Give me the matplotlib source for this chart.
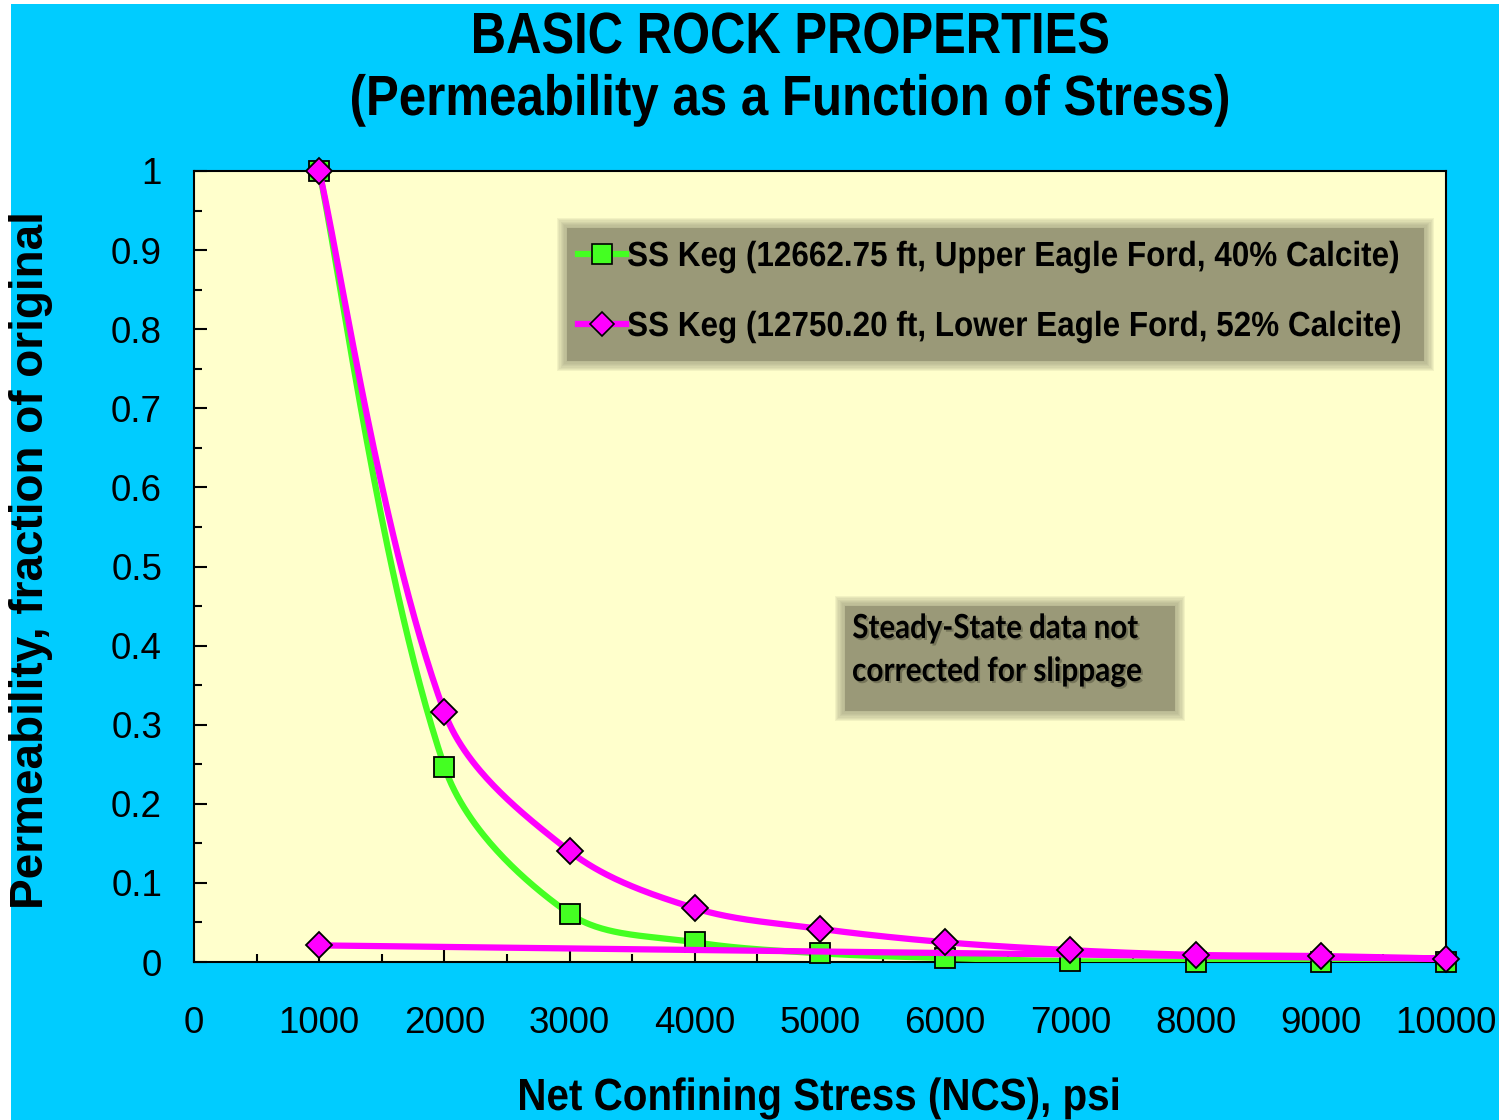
import numpy as np
import matplotlib
matplotlib.use("Agg")
import matplotlib.pyplot as plt
from matplotlib.font_manager import FontProperties
from matplotlib.textpath import TextPath
from matplotlib.patches import PathPatch, Rectangle
from matplotlib.transforms import Affine2D, IdentityTransform
from matplotlib.lines import Line2D

# net confining stress steps, psi
stress = [1000, 2000, 3000, 4000, 5000, 6000, 7000, 8000, 9000, 10000]
# upper Eagle Ford plug, loading only
upper_perm = [1.0, 0.247, 0.061, 0.025, 0.011, 0.005, 0.001, 0.0005, 0.0003, 0.0002]
# lower Eagle Ford plug, loading then unloaded back to 1000 psi
lower_stress = stress + [1000]
lower_perm = [1.0, 0.316, 0.140, 0.068, 0.042, 0.025, 0.015, 0.009, 0.0075, 0.004, 0.021]

x_ticks = [0, 1000, 2000, 3000, 4000, 5000, 6000, 7000, 8000, 9000, 10000]
y_ticks = [0, 0.1, 0.2, 0.3, 0.4, 0.5, 0.6, 0.7, 0.8, 0.9, 1.0]
y_labels = ["0", "0.1", "0.2", "0.3", "0.4", "0.5", "0.6", "0.7", "0.8", "0.9", "1"]

label_upper = "SS Keg (12662.75 ft, Upper Eagle Ford, 40% Calcite)"
label_lower = "SS Keg (12750.20 ft, Lower Eagle Ford, 52% Calcite)"

W, H = 1499, 1120
CYAN = "#00CCFF"
GREEN = "#44FF22"
MAGENTA = "#FF00FF"
BOXGRAY = "#9A9978"

fig = plt.figure(figsize=(W / 100, H / 100), dpi=100, facecolor="white")
fig.add_artist(Rectangle((11 / W, 0), 1, 1 - 4 / H, transform=fig.transFigure,
                         facecolor=CYAN, edgecolor="none", zorder=-10))

ax = fig.add_axes([194 / W, 1 - 962 / H, (1446 - 194) / W, (962 - 171) / H])
ax.set_facecolor("#FFFFCC")
ax.set_xlim(0, 10000)
ax.set_ylim(0, 1)
for s in ax.spines.values():
    s.set_linewidth(1.5)

ax.set_xticks(x_ticks)
ax.set_xticklabels([str(v) for v in x_ticks])
ax.set_xticks(np.arange(500, 10000, 1000), minor=True)
ax.set_yticks(y_ticks)
ax.set_yticklabels(y_labels)
ax.set_yticks(np.arange(0.05, 1.0, 0.1), minor=True)
ax.tick_params(which="both", direction="in", width=1.5, labelsize=26.5,
               colors="black")
ax.tick_params(which="major", length=9)
ax.tick_params(which="minor", length=6)
ax.tick_params(axis="x", pad=32)
ax.tick_params(axis="y", pad=23)
for t in ax.get_xticklabels() + ax.get_yticklabels():
    t.set_family("Liberation Sans")


def smooth(xs, ys, n=60):
    # Bezier smoothing through the points in screen space; the control arms
    # are weighted by the lengths of the neighbouring segments
    pts = ax.transData.transform(np.column_stack([xs, ys]))
    P = np.vstack([pts[0], pts, pts[-1]])
    d = np.hypot(*np.diff(P, axis=0).T)
    t = np.linspace(0, 1, n)[:, None]
    segs = []
    for i in range(1, len(P) - 2):
        p0, p1, p2, p3 = P[i - 1], P[i], P[i + 1], P[i + 2]
        d0, d1, d2 = d[i - 1], d[i], d[i + 1]
        w1 = d1 / (d0 + d1) / 3 if d0 > 0 else 1 / 6
        w2 = d1 / (d1 + d2) / 3 if d2 > 0 else 1 / 6
        c1 = p1 + (p2 - p0) * w1
        c2 = p2 - (p3 - p1) * w2
        segs.append((1 - t) ** 3 * p1 + 3 * (1 - t) ** 2 * t * c1
                    + 3 * (1 - t) * t ** 2 * c2 + t ** 3 * p2)
    cx, cy = ax.transData.inverted().transform(np.vstack(segs)).T
    return cx, cy


gx, gy = smooth(stress, upper_perm)
ax.plot(gx, gy, color=GREEN, lw=4.5, solid_capstyle="round", zorder=3)
ax.plot(stress, upper_perm, ls="none", marker="s", ms=15, mfc=GREEN,
        mec="black", mew=1.3, clip_on=False, zorder=3)

mx, my = smooth(lower_stress, lower_perm)
ax.plot(mx, my, color=MAGENTA, lw=4.5, solid_capstyle="round", zorder=4)
ax.plot(lower_stress, lower_perm, ls="none", marker="D", ms=13.5, mfc=MAGENTA,
        mec="black", mew=1.3, clip_on=False, zorder=4)


def fit_text(s, x0, x1, base, cap_h, family, weight="bold", color="black",
             zorder=6, shadow=False):
    # text drawn as a path, stretched to a given ink width and cap height
    fp = FontProperties(family=family, weight=weight)
    tp = TextPath((0, 0), s, size=100, prop=fp)
    cap = TextPath((0, 0), "H", size=100, prop=fp).get_extents().y1
    ext = tp.get_extents()
    sx = (x1 - x0) / ext.width
    sy = cap_h / cap
    tr = Affine2D().translate(-ext.x0, 0).scale(sx, sy).translate(x0, H - base)
    path = tr.transform_path(tp)
    if shadow:
        sh = Affine2D().translate(2, -2).transform_path(path)
        fig.add_artist(PathPatch(sh, facecolor="#333322", edgecolor="none",
                                 alpha=0.35, transform=IdentityTransform(),
                                 zorder=zorder - 0.5))
    fig.add_artist(PathPatch(path, facecolor=color, edgecolor="none",
                             transform=IdentityTransform(), zorder=zorder))


def soft_box(x0, y0, x1, y1, color, zorder=4):
    # box with a blurred edge
    for k in range(8, 0, -1):
        g = k * 1.3
        fig.add_artist(Rectangle(((x0 - g) / W, 1 - (y1 + g) / H),
                                 (x1 - x0 + 2 * g) / W, (y1 - y0 + 2 * g) / H,
                                 transform=fig.transFigure, facecolor=color,
                                 edgecolor="none", alpha=0.12, zorder=zorder))
    fig.add_artist(Rectangle((x0 / W, 1 - y1 / H), (x1 - x0) / W, (y1 - y0) / H,
                             transform=fig.transFigure, facecolor=color,
                             edgecolor="none", zorder=zorder))


# titles
fit_text("BASIC ROCK PROPERTIES", 474, 1108, 53, 40, "Liberation Sans")
fit_text("(Permeability as a Function of Stress)", 352, 1228, 115, 39,
         "Liberation Sans")

# axis titles
fit_text("Net Confining Stress (NCS), psi", 520, 1118, 1110, 31,
         "Liberation Sans")
fig.text(31 / W, 1 - 560 / H, "Permeability, fraction of original",
         rotation=90, ha="center", va="center", fontsize=33,
         fontweight="bold", family="Liberation Sans")

# legend
soft_box(567, 228, 1424, 361, BOXGRAY)
for yy, col, mk, ms, lab, x1 in [(254, GREEN, "s", 14, label_upper, 1398),
                                 (324, MAGENTA, "D", 12, label_lower, 1400)]:
    fig.add_artist(Line2D([578 / W, 626 / W], [1 - yy / H, 1 - yy / H],
                          transform=fig.transFigure, color=col, lw=4.5,
                          zorder=5))
    fig.add_artist(Line2D([602 / W], [1 - yy / H], transform=fig.transFigure,
                          ls="none", marker=mk, ms=ms, mfc=col, mec="black",
                          mew=1.2, zorder=5))
    fit_text(lab, 628, x1, yy + 12, 24, "Liberation Sans")

# note box
soft_box(845, 606, 1175, 711, BOXGRAY)
fit_text("Steady-State data not", 853, 1138, 638, 24, "Lato", shadow=True)
fit_text("corrected for slippage", 853, 1141, 681, 24, "Lato", shadow=True)

fig.savefig("out.png", dpi=100, facecolor=fig.get_facecolor())
